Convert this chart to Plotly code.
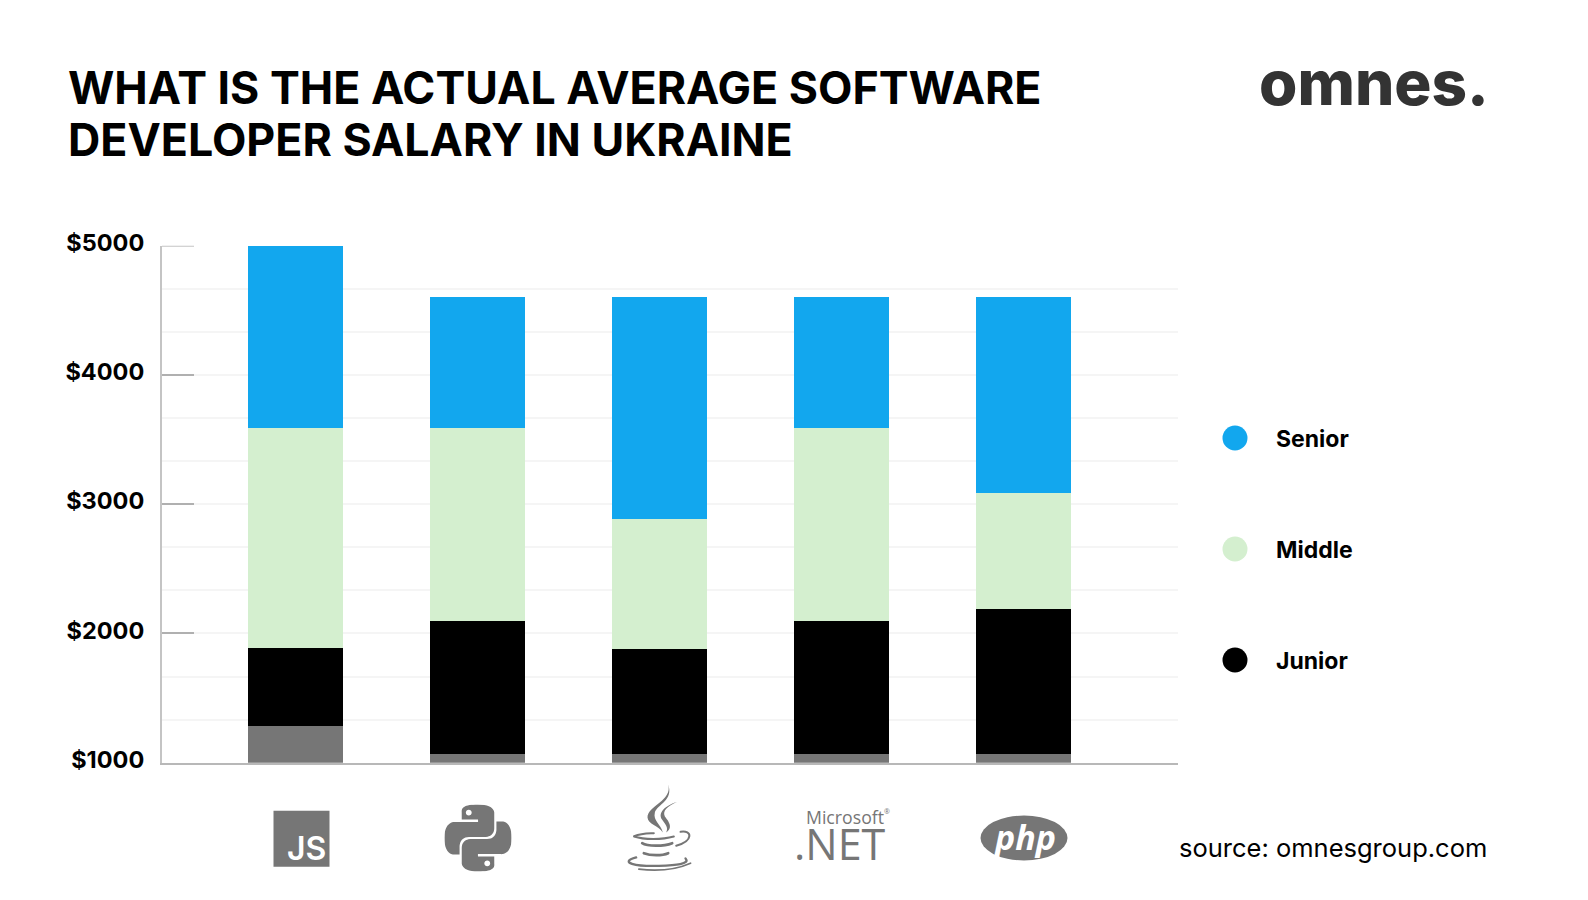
import base64
import plotly.graph_objs as go

WIDTH = 1588
HEIGHT = 900

# chart values (stacks start from zero, axis is cut at 1000)
categories = ["JavaScript", "Python", "Java", ".NET", "PHP"]
base_values = [1283, 1068, 1068, 1068, 1068]
junior = [603, 1028, 810, 1028, 1122]
middle = [1703, 1493, 1007, 1493, 899]
senior = [1411, 1016, 1720, 1016, 1516]

tick_values = [1000, 2000, 3000, 4000, 5000]
tick_labels = ["$1000", "$2000", "$3000", "$4000", "$5000"]
legend_names = ["Senior", "Middle", "Junior"]
legend_colors = ["#12a7ee", "#d4efcf", "#000000"]

title_lines = ["WHAT IS THE ACTUAL AVERAGE SOFTWARE", "DEVELOPER SALARY IN UKRAINE"]
GREY = "#767676"
TITLE_FONT = "Inter"

# plot area in pixels
PLOT_LEFT = 162
PLOT_RIGHT = 1178
PLOT_TOP = 245.7
PLOT_BOTTOM = 762.7


def px(x):
    return x / WIDTH


def py(y):
    return 1 - y / HEIGHT


def svg_image(svg, x0, y0, w, h):
    """Wraps an svg string in a layout image placed in pixel coordinates."""
    source = "data:image/svg+xml;base64," + base64.b64encode(svg.encode()).decode()
    return dict(source=source, xref="paper", yref="paper", x=px(x0), y=py(y0),
                sizex=w / WIDTH, sizey=h / HEIGHT, xanchor="left", yanchor="top",
                sizing="stretch", layer="above")


def note(text, x, y, size, family=TITLE_FONT, color="#000000", weight=400, xanchor="left"):
    return dict(text=text, xref="paper", yref="paper", x=px(x), y=py(y), showarrow=False,
                xanchor=xanchor, yanchor="middle", align="left",
                font=dict(family=family, size=size, color=color, weight=weight))


PYTHON_SVG = f"""<svg xmlns="http://www.w3.org/2000/svg" viewBox="0 0 24 24"><path fill="{GREY}" d="M14.25.18l.9.2.73.26.59.3.45.32.34.34.25.34.16.33.1.3.04.26.02.2-.01.13V8.5l-.05.63-.13.55-.21.46-.26.38-.3.31-.33.25-.35.19-.35.14-.33.1-.3.07-.26.04-.21.02H8.77l-.69.05-.59.14-.5.22-.41.27-.33.32-.27.35-.2.36-.15.37-.1.35-.07.32-.04.27-.02.21v3.06H3.17l-.21-.03-.28-.07-.32-.12-.35-.18-.36-.26-.36-.36-.35-.46-.32-.59-.28-.73-.21-.88-.14-1.05-.05-1.23.06-1.22.16-1.04.24-.87.32-.71.36-.57.4-.44.42-.33.42-.24.4-.16.36-.1.32-.05.24-.01h.16l.06.01h8.16v-.83H6.18l-.01-2.75-.02-.37.05-.34.11-.31.17-.28.25-.26.31-.23.38-.2.44-.18.51-.15.58-.12.64-.1.71-.06.77-.04.84-.02 1.27.05zm-6.3 1.98l-.23.33-.08.41.08.41.23.34.33.22.41.09.41-.09.33-.22.23-.34.08-.41-.08-.41-.23-.33-.33-.22-.41-.09-.41.09zm13.09 3.95l.28.06.32.12.35.18.36.27.36.35.35.47.32.59.28.73.21.88.14 1.04.05 1.23-.06 1.23-.16 1.04-.24.86-.32.71-.36.57-.4.45-.42.33-.42.24-.4.16-.36.09-.32.05-.24.02-.16-.01h-8.22v.82h5.84l.01 2.76.02.36-.05.34-.11.31-.17.29-.25.25-.31.24-.38.2-.44.17-.51.15-.58.13-.64.09-.71.07-.77.04-.84.01-1.27-.04-1.07-.14-.9-.2-.73-.25-.59-.3-.45-.33-.34-.34-.25-.34-.16-.33-.1-.3-.04-.25-.02-.2.01-.13v-5.34l.05-.64.13-.54.21-.46.26-.38.3-.32.33-.24.35-.2.35-.14.33-.1.3-.06.26-.04.21-.02.13-.01h5.84l.69-.05.59-.14.5-.21.41-.28.33-.32.27-.35.2-.36.15-.36.1-.35.07-.32.04-.28.02-.21V6.07h2.09l.14.01zm-6.47 14.25l-.23.33-.08.41.08.41.23.33.33.23.41.08.41-.08.33-.23.23-.33.08-.41-.08-.41-.23-.33-.33-.23-.41-.08-.41.08z"/></svg>"""

# java cup, units are 1/3 px
JAVA_SVG = f"""<svg xmlns="http://www.w3.org/2000/svg" viewBox="140 160 200 270">
<g fill="{GREY}"><path d="M268 165C282 215 205 230 206 265C207 285 240 290 252 310C246 285 222 275 228 250C235 225 285 215 268 165Z"/>
<path d="M295 218C260 230 235 250 250 272C258 285 270 295 262 310C285 295 268 275 258 262C250 245 265 232 295 218Z"/></g>
<g fill="none" stroke="{GREY}" stroke-linecap="round">
<path stroke-width="6" d="M166 321C190 312 215 313 225 312"/>
<path stroke-width="6" d="M166 322C195 332 250 332 285 322"/>
<path stroke-width="6" d="M305 308C340 302 345 335 292 350"/>
<path stroke-width="8" d="M190 342C205 352 255 352 280 342"/>
<path stroke-width="8" d="M195 372C215 380 250 380 268 372"/>
<path stroke-width="7" d="M172 385C118 400 170 412 240 410C290 408 335 405 320 388"/>
<path stroke-width="5" d="M180 420C230 426 290 422 335 402"/>
</g></svg>"""

# Create the traces
data = [
    go.Bar(x=categories, y=base_values, name="Base", marker_color=GREY, marker_line_width=0, showlegend=False),
    go.Bar(x=categories, y=junior, name="Junior", marker_color=legend_colors[2], marker_line_width=0, showlegend=False),
    go.Bar(x=categories, y=middle, name="Middle", marker_color=legend_colors[1], marker_line_width=0, showlegend=False),
    go.Bar(x=categories, y=senior, name="Senior", marker_color=legend_colors[0], marker_line_width=0, showlegend=False),
]

# Create a layout
layout = go.Layout(
    width=WIDTH,
    height=HEIGHT,
    margin=dict(l=0, r=0, t=0, b=0),
    paper_bgcolor="#ffffff",
    plot_bgcolor="#ffffff",
    barmode="stack",
    bargap=0.478,
    xaxis=dict(
        domain=[px(PLOT_LEFT), px(PLOT_RIGHT)],
        range=[-0.7335, 4.849],
        automargin=False,
        showticklabels=False,
        showgrid=False,
        ticks="",
        showline=True,
        linecolor="#b8b8b8",
        linewidth=2,
        zeroline=False,
    ),
    yaxis=dict(
        domain=[py(PLOT_BOTTOM), py(PLOT_TOP)],
        range=[1000, 5000],
        automargin=False,
        tickvals=tick_values,
        ticktext=tick_labels,
        tickfont=dict(family=TITLE_FONT, size=23.5, color="#000000", weight=700),
        ticks="inside",
        ticklen=32,
        tickwidth=2,
        tickcolor="#b0b0b0",
        ticklabelstandoff=11,
        ticklabelshift=-3,
        showline=True,
        linecolor="#c4c4c4",
        linewidth=2,
        gridcolor="#f5f5f5",
        gridwidth=2,
        minor=dict(tick0=1000, dtick=1000 / 3, showgrid=True, gridcolor="#f5f5f5", gridwidth=2, ticks=""),
        zeroline=False,
    ),
    showlegend=False,
)

fig = go.Figure(data=data, layout=layout)

# plotly drops the inside tick at the axis end, so the top one is added by hand
fig.add_shape(type="line", xref="paper", yref="y", x0=px(PLOT_LEFT), x1=px(PLOT_LEFT + 32),
              y0=tick_values[-1], y1=tick_values[-1], line=dict(color="#c4c4c4", width=2))

# title, logo and source line
title_y = [88, 140]
for line, y in zip(title_lines, title_y):
    fig.add_annotation(note(line, 65.5, y, 44.7, weight=700))
fig.add_annotation(note("omnes.", 1491, 82, 62, weight=800, xanchor="right", color="#333333"))
fig.add_annotation(note("source: omnesgroup.com", 1489, 847, 25.5, xanchor="right"))

# legend keys on the right
legend_y = [438, 549, 660]
for name, color, y in zip(legend_names, legend_colors, legend_y):
    fig.add_shape(type="circle", xref="paper", yref="paper", x0=px(1222.5), x1=px(1247.5),
                  y0=py(y + 12.5), y1=py(y - 12.5), fillcolor=color, line_width=0)
    fig.add_annotation(note(name, 1274, y + 0.5, 23, weight=700))

# language logos under the bars, greyscale like the source
fig.add_shape(type="rect", xref="paper", yref="paper", x0=px(273.5), x1=px(329.5),
              y0=py(866.7), y1=py(810.7), fillcolor=GREY, line_width=0)
fig.add_annotation(note("JS", 328, 848, 32, color="#ffffff", weight=600, xanchor="right"))
fig.add_layout_image(svg_image(PYTHON_SVG, 444.5, 804.5, 67, 67))
fig.add_layout_image(svg_image(JAVA_SVG, 625.5, 782.5, 66.7, 90))
fig.add_annotation(note("Microsoft", 804, 816.5, 17.7, family="Open Sans", color=GREY))
fig.add_annotation(note("®", 882, 811, 7, family="Open Sans", color=GREY))
fig.add_annotation(note(".NET", 792, 843, 43, family="Open Sans", color=GREY))
fig.add_shape(type="circle", xref="paper", yref="paper", x0=px(980.5), x1=px(1067.5),
              y0=py(860.5), y1=py(815.5), fillcolor=GREY, line_width=0)
fig.add_annotation(note("<b><i>php</i></b>", 1024, 837, 34, family="Open Sans", color="#ffffff", xanchor="center"))

# Write the graph to an html file
fig.write_html("out.html", config={"displayModeBar": False},
               post_script="document.body.style.margin = '0';")
